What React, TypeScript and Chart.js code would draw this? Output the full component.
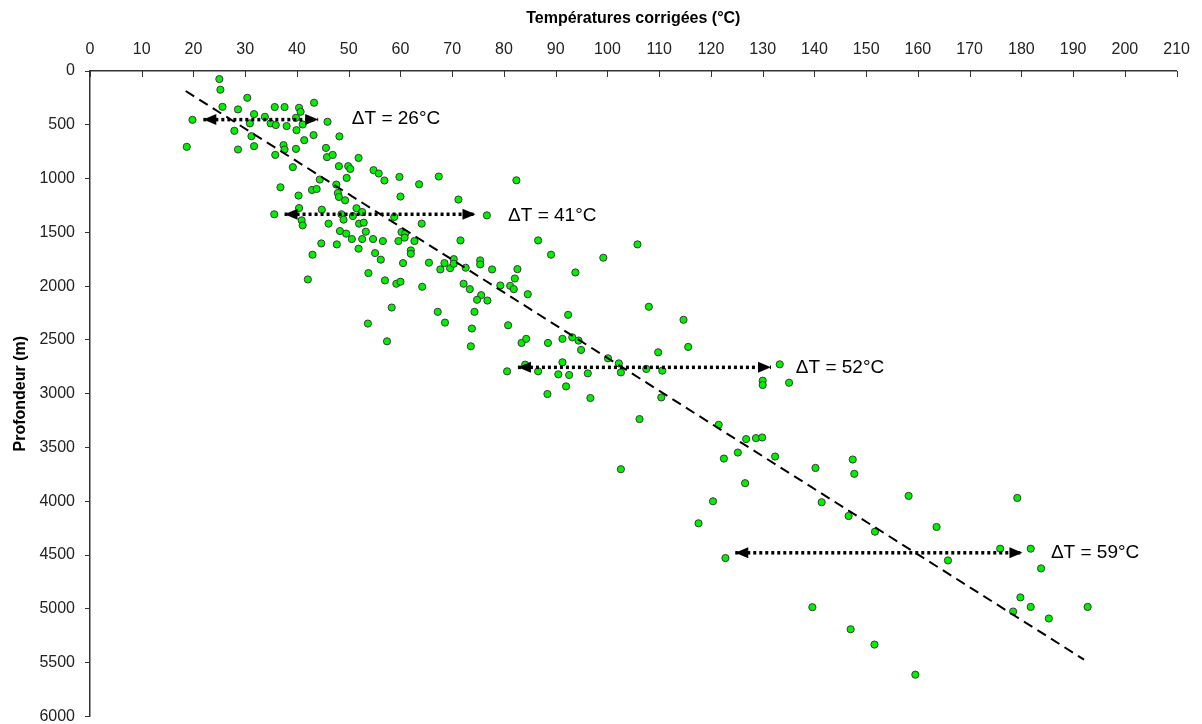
import React, { useEffect, useRef } from "react";
import { Chart, registerables } from "chart.js";

Chart.register(...registerables);

// Axis settings
const xMin = 0;
const xMax = 210;
const xStep = 10;
const yMin = 0;
const yMax = 6000;
const yStep = 500;
const xTitle = "Températures corrigées (°C)";
const yTitle = "Profondeur (m)";

// Scatter data: corrected temperature (°C) and depth (m), paired by index
const temperatures = [
  25.0, 25.2, 25.6, 19.8, 18.7, 28.6, 30.4, 31.7, 30.9, 27.9,
  31.2, 31.7, 28.6, 33.8, 35.7, 37.6, 34.9, 35.9, 38.0, 40.4,
  40.7, 39.8, 41.1, 39.9, 43.3, 45.9, 43.2, 41.4, 39.8, 37.4,
  37.6, 35.8, 39.2, 48.2, 45.6, 45.8, 46.9, 51.9, 48.1, 49.9,
  50.3, 49.6, 44.4, 54.8, 55.8, 56.9, 59.8, 63.6, 67.4, 36.8,
  40.3, 42.9, 43.8, 47.6, 47.9, 48.1, 60.0, 49.3, 35.6, 40.4,
  40.9, 41.1, 44.8, 46.1, 48.6, 49.0, 50.8, 51.5, 52.6, 52.0,
  52.9, 58.8, 64.1, 48.3, 49.5, 50.6, 53.3, 52.6, 54.7, 56.6,
  59.6, 60.2, 60.9, 60.8, 62.7, 44.7, 47.7, 51.9, 43.0, 55.1,
  62.0, 62.0, 56.2, 42.1, 53.8, 57.0, 59.2, 60.0, 64.2, 60.5,
  65.5, 67.7, 68.5, 58.3, 53.7, 57.4, 67.2, 68.6, 69.6, 70.3,
  70.3, 72.6, 75.4, 75.4, 77.7, 82.6, 82.1, 81.2, 81.9, 84.6,
  72.2, 73.4, 75.6, 74.8, 76.8, 74.3, 73.8, 73.6, 80.8, 83.4,
  84.3, 88.5, 89.1, 80.6, 84.1, 86.6, 88.4, 86.6, 105.8, 99.2,
  93.8, 108.0, 114.7, 115.6, 109.8, 92.4, 79.3, 91.3, 93.2, 94.4,
  94.9, 91.3, 90.5, 92.6, 96.2, 92.0, 96.7, 100.1, 102.2, 102.6,
  107.5, 110.6, 110.4, 106.2, 121.5, 126.8, 128.7, 129.9, 133.3, 130.0,
  130.0, 135.1, 102.6, 125.2, 122.5, 132.4, 126.6, 120.4, 117.6, 140.2,
  147.4, 147.7, 141.4, 146.6, 151.7, 158.2, 122.8, 139.6, 147.0, 151.6,
  163.6, 165.8, 175.9, 179.2, 181.8, 183.8, 179.8, 181.8, 178.4, 185.3,
  192.8, 159.5, 82.4, 71.2, 76.7, 71.6,
];
const depths = [
  75, 174, 333, 454, 705, 357, 249, 401, 487, 556,
  606, 699, 730, 426, 335, 335, 487, 503, 512, 342,
  379, 435, 497, 550, 295, 472, 596, 643, 724, 689,
  730, 780, 894, 608, 715, 801, 780, 808, 885, 885,
  910, 994, 1009, 922, 953, 1018, 985, 1053, 981, 1081,
  1158, 1106, 1097, 1056, 1134, 1171, 1167, 1202, 1332, 1274,
  1388, 1435, 1289, 1419, 1332, 1382, 1348, 1276, 1311, 1419,
  1410, 1357, 1419, 1488, 1512, 1562, 1494, 1562, 1562, 1581,
  1581, 1497, 1512, 1549, 1581, 1603, 1612, 1652, 1708, 1693,
  1668, 1699, 1754, 1938, 1879, 1947, 1978, 1959, 2006, 1786,
  1782, 1845, 1786, 2199, 2348, 2513, 2239, 2339, 1833, 1749,
  1792, 1829, 1761, 1798, 1845, 1842, 1929, 1997, 2028, 2075,
  1978, 2028, 2084, 2127, 2134, 2239, 2394, 2559, 2364, 2528,
  2490, 2528, 1708, 2792, 2730, 2792, 3003, 1575, 1612, 1736,
  1873, 2192, 2313, 2565, 2615, 2267, 1994, 2490, 2476, 2506,
  2593, 2708, 2820, 2826, 2811, 2932, 3040, 2671, 2718, 2802,
  2770, 2786, 3035, 3236, 3289, 3422, 3413, 3407, 2727, 2879,
  2919, 2898, 3702, 3547, 3603, 3584, 3832, 4000, 4205, 3690,
  3612, 3745, 4009, 4137, 4283, 3950, 4528, 4985, 5190, 5332,
  4239, 4550, 4441, 3969, 4441, 4624, 4894, 4982, 5025, 5090,
  4982, 5612, 1016, 1195, 1342, 1575,
];

// Trend line (dashed)
const trendTemps = [18.5, 192.1];
const trendDepths = [186, 5472];

// ΔT arrows
const arrowDepths = [452, 1332, 2755, 4479];
const arrowFrom = [21.9, 37.6, 82.7, 124.7];
const arrowTo = [44.1, 74.5, 131.6, 180.2];
const deltaLabels = ["\u0394T = 26°C", "\u0394T = 41°C", "\u0394T = 52°C", "\u0394T = 59°C"];
const labelTemps = [50.6, 80.8, 136.4, 185.7];
const labelDepths = [440, 1342, 2755, 4479];

const FONT = "'Liberation Sans', Arial, Helvetica, sans-serif";
const AXIS_COLOR = "#333333";

const annotationPlugin = {
  id: "annotations",
  afterDatasetsDraw(chart: any) {
    const ctx = chart.ctx;
    const xs = chart.scales.x;
    const ys = chart.scales.y;
    ctx.save();
    ctx.fillStyle = "#000";
    for (let i = 0; i < arrowDepths.length; i++) {
      const y = ys.getPixelForValue(arrowDepths[i]);
      const x1 = xs.getPixelForValue(arrowFrom[i]);
      const x2 = xs.getPixelForValue(arrowTo[i]);
      const len = 13;
      const half = 5.5;
      ctx.beginPath();
      ctx.moveTo(x1, y);
      ctx.lineTo(x1 + len, y - half);
      ctx.lineTo(x1 + len, y + half);
      ctx.closePath();
      ctx.fill();
      ctx.beginPath();
      ctx.moveTo(x2, y);
      ctx.lineTo(x2 - len, y - half);
      ctx.lineTo(x2 - len, y + half);
      ctx.closePath();
      ctx.fill();
    }
    ctx.font = `19px ${FONT}`;
    ctx.textAlign = "left";
    ctx.textBaseline = "middle";
    for (let i = 0; i < deltaLabels.length; i++) {
      ctx.fillText(
        deltaLabels[i],
        xs.getPixelForValue(labelTemps[i]),
        ys.getPixelForValue(labelDepths[i])
      );
    }
    ctx.restore();
  },
  afterDraw(chart: any) {
    // inward tick marks below the top x-axis
    const ctx = chart.ctx;
    const xs = chart.scales.x;
    const top = chart.chartArea.top;
    ctx.save();
    ctx.strokeStyle = AXIS_COLOR;
    ctx.lineWidth = 1;
    for (const t of xs.ticks) {
      const px = Math.round(xs.getPixelForValue(t.value)) + 0.5;
      ctx.beginPath();
      ctx.moveTo(px, top);
      ctx.lineTo(px, top + 6);
      ctx.stroke();
    }
    ctx.restore();
  },
};

export default function App() {
  const canvasRef = useRef<HTMLCanvasElement | null>(null);

  useEffect(() => {
    if (!canvasRef.current) return;
    const points = temperatures.map((t, i) => ({ x: t, y: depths[i] }));
    const trend = trendTemps.map((t, i) => ({ x: t, y: trendDepths[i] }));
    const arrowSets = arrowDepths.map((d, i) => ({
      type: "line" as const,
      data: [
        { x: arrowFrom[i], y: d },
        { x: arrowTo[i], y: d },
      ],
      showLine: true,
      borderColor: "#000",
      borderWidth: 3.5,
      borderDash: [3, 3],
      borderCapStyle: "butt" as const,
      pointRadius: 0,
      fill: false,
      order: 0,
    }));

    const chart = new Chart(canvasRef.current, {
      type: "scatter",
      data: {
        datasets: [
          ...arrowSets,
          {
            type: "line",
            data: trend,
            showLine: true,
            borderColor: "#000",
            borderWidth: 2,
            borderDash: [10, 6],
            pointRadius: 0,
            fill: false,
            order: 1,
          } as any,
          {
            type: "scatter",
            data: points,
            backgroundColor: "#00f000",
            borderColor: "#3a3a3a",
            borderWidth: 1,
            pointRadius: 3.6,
            pointStyle: "circle",
            order: 2,
          },
        ],
      },
      options: {
        responsive: true,
        maintainAspectRatio: false,
        animation: false,
        layout: { padding: { left: 0, top: 0, right: 24, bottom: 0 } },
        plugins: {
          legend: { display: false },
          tooltip: { enabled: false },
        },
        scales: {
          x: {
            type: "linear",
            position: "top",
            min: xMin,
            max: xMax,
            ticks: {
              stepSize: xStep,
              font: { family: FONT, size: 16 },
              color: "#222",
              padding: 12,
              maxRotation: 0,
              autoSkip: false,
            },
            grid: { display: true, drawOnChartArea: false, drawTicks: false },
            border: { display: true, color: AXIS_COLOR, width: 1.5 },
            title: {
              display: true,
              text: xTitle,
              font: { family: FONT, size: 16, weight: "bold" },
              color: "#000",
              padding: { top: 9, bottom: 0 },
            },
            afterFit: (s: any) => {
              s.height = 71;
            },
          },
          y: {
            type: "linear",
            reverse: true,
            min: yMin,
            max: yMax,
            ticks: {
              stepSize: yStep,
              font: { family: FONT, size: 16 },
              color: "#222",
              padding: 10,
              autoSkip: false,
              callback: (v: any) => String(v),
            },
            grid: {
              display: true,
              drawOnChartArea: false,
              drawTicks: true,
              tickLength: 5,
              color: AXIS_COLOR,
            },
            border: { display: true, color: AXIS_COLOR, width: 1.5 },
            title: {
              display: true,
              text: yTitle,
              font: { family: FONT, size: 16, weight: "bold" },
              color: "#000",
              padding: { top: 11, bottom: 0 },
            },
            afterFit: (s: any) => {
              s.width = 90;
            },
          },
        },
      },
      plugins: [annotationPlugin],
    });
    return () => chart.destroy();
  }, []);

  return (
    <div
      style={{
        position: "fixed",
        left: 0,
        top: 0,
        width: 1202,
        height: 736,
        background: "#fff",
      }}
    >
      <canvas ref={canvasRef} />
    </div>
  );
}
